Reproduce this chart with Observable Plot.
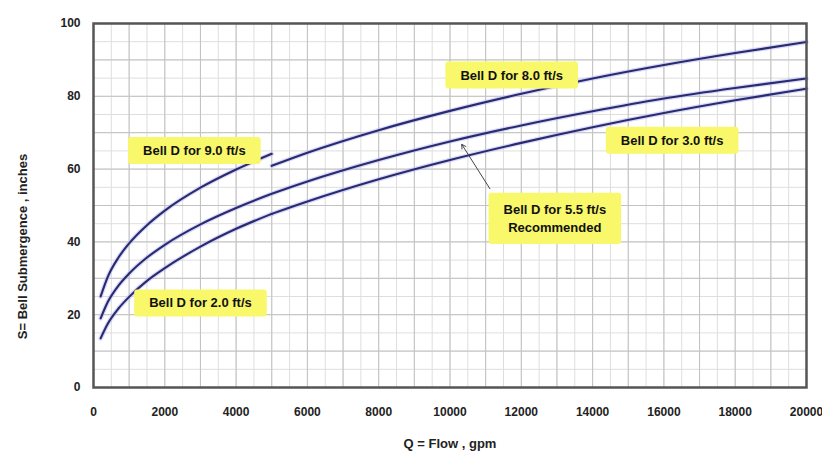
<!DOCTYPE html>
<html>
<head>
<meta charset="utf-8">
<script src="https://cdn.jsdelivr.net/npm/d3@7"></script>
<script src="https://cdn.jsdelivr.net/npm/@observablehq/plot@0.6"></script>
<style>
  html, body { margin: 0; padding: 0; background: #ffffff; }
  #chart { width: 822px; height: 454px; position: relative; }
</style>
</head>
<body>
<div id="chart"></div>
<script>
// ---- data ----
const flowLow  = [200, 400, 700, 1000, 1500, 2000, 3000, 4000, 5000];
const flowHigh = [5000, 6000, 8000, 10000, 12000, 14000, 16000, 18000, 20000];
const flowAll  = [200, 400, 700, 1000, 1500, 2000, 3000, 4000, 5000, 6000, 8000, 10000, 12000, 14000, 16000, 18000, 20000];

const bell9_0 = [25.0, 30.4, 35.7, 39.6, 44.6, 48.6, 54.9, 59.9, 64.2];
const bell2_0 = [13.5, 17.5, 21.7, 24.9, 29.3, 32.8, 38.7, 43.6, 47.7];
const bell8_0 = [60.9, 64.5, 70.7, 76.0, 80.7, 84.9, 88.6, 91.9, 94.9];
const bell3_0 = [47.7, 51.1, 57.2, 62.5, 67.2, 71.5, 75.4, 78.9, 82.1];
const bell5_5 = [19.0, 23.5, 28.0, 31.3, 35.7, 39.2, 44.8, 49.3, 53.2, 56.6, 62.5, 67.6, 72.0, 75.9, 79.4, 82.3, 84.9];

const xTicks = [0, 2000, 4000, 6000, 8000, 10000, 12000, 14000, 16000, 18000, 20000];
const yTicks = [0, 20, 40, 60, 80, 100];

const xTitle = "Q = Flow , gpm";
const yTitle = "S= Bell Submergence , inches";

const calloutText = ["Bell D for 9.0 ft/s", "Bell D for 8.0 ft/s", "Bell D for 3.0 ft/s", "Bell D for 5.5 ft/s\nRecommended", "Bell D for 2.0 ft/s"];
const calloutQ    = [2830, 11730, 16230, 12940, 3000];
const calloutS    = [65.5, 86.2, 68.3, 46.8, 23.6];

const arrowFrom = {q: 11120, s: 54.6};
const arrowTo   = {q: 10330, s: 66.8};

// ---- tables built from the arrays ----
const series = [];
flowLow.forEach((q, i) => series.push({key: "9.0", q, s: bell9_0[i]}));
flowLow.forEach((q, i) => series.push({key: "2.0", q, s: bell2_0[i]}));
flowHigh.forEach((q, i) => series.push({key: "8.0", q, s: bell8_0[i]}));
flowHigh.forEach((q, i) => series.push({key: "3.0", q, s: bell3_0[i]}));
flowAll.forEach((q, i) => series.push({key: "5.5", q, s: bell5_5[i]}));

const callouts = calloutText.map((text, i) => ({text, q: calloutQ[i], s: calloutS[i]}));
const arrows = [{q1: arrowFrom.q, s1: arrowFrom.s, q2: arrowTo.q, s2: arrowTo.s}];

const xMinor = d3.range(0, 20001, 500);
const xMajor = d3.range(0, 20001, 1000);
const yMinor = d3.range(0, 101, 5);
const yMajor = d3.range(0, 101, 10);

const font = "'Liberation Sans', Arial, Helvetica, sans-serif";

const chart = Plot.plot({
  width: 822,
  height: 454,
  marginLeft: 93,
  marginRight: 16,
  marginTop: 23,
  marginBottom: 67,
  style: {fontFamily: font, fontSize: "12px", background: "#ffffff", color: "#222"},
  x: {domain: [0, 20000]},
  y: {domain: [0, 100]},
  marks: [
    Plot.ruleX(xMinor, {stroke: "#dedede", strokeWidth: 1}),
    Plot.ruleY(yMinor, {stroke: "#dedede", strokeWidth: 1}),
    Plot.ruleX(xMajor, {stroke: "#c2c2c2", strokeWidth: 1}),
    Plot.ruleY(yMajor, {stroke: "#c2c2c2", strokeWidth: 1}),
    Plot.line(series, {x: "q", y: "s", z: "key", stroke: "#b9b9f5", strokeWidth: 4.5, strokeOpacity: 0.55, curve: "monotone-x"}),
    Plot.line(series, {x: "q", y: "s", z: "key", stroke: "#2a2a6e", strokeWidth: 2.1, curve: "monotone-x"}),
    Plot.arrow(arrows, {x1: "q1", y1: "s1", x2: "q2", y2: "s2", stroke: "#444", strokeWidth: 1, headLength: 7}),
    Plot.text(callouts, {x: "q", y: "s", text: "text", fontWeight: "bold", fontSize: 13, fill: "#111", lineHeight: 1.4}),
    Plot.frame({stroke: "#555", strokeWidth: 2.5}),
    Plot.axisX(xTicks, {tickSize: 0, tickPadding: 20, label: null, fontWeight: "bold", fill: "#222", tickFormat: d3.format("d")}),
    Plot.axisY(yTicks, {tickSize: 0, tickPadding: 13, label: null, fontWeight: "bold", fill: "#222", tickFormat: d3.format("d")}),
    Plot.text([xTitle], {text: d => d, frameAnchor: "bottom", lineAnchor: "middle", dy: 56, fontWeight: "bold", fontSize: 13, fill: "#222"}),
    Plot.text([yTitle], {text: d => d, frameAnchor: "left", textAnchor: "middle", lineAnchor: "middle", rotate: -90, dx: -71, dy: 41, fontWeight: "bold", fontSize: 13, fill: "#222"})
  ]
});

document.getElementById("chart").append(chart);

// yellow boxes behind the callout texts
const svgns = "http://www.w3.org/2000/svg";
const svgRect = chart.getBoundingClientRect();
const calloutNodes = Array.from(chart.querySelectorAll("text")).filter(t => calloutText.includes(t.textContent) || calloutText.some(c => c.replace("\n", "") === t.textContent));
if (calloutNodes.length) {
  const parent = calloutNodes[0].parentNode;
  const boxes = document.createElementNS(svgns, "g");
  calloutNodes.forEach(t => {
    const b = t.getBoundingClientRect();
    const lines = t.querySelectorAll("tspan").length || 1;
    const padX = 15, padY = 6 + 3 * (lines - 1);
    const r = document.createElementNS(svgns, "rect");
    r.setAttribute("x", b.left - svgRect.left - padX);
    r.setAttribute("y", b.top - svgRect.top - padY);
    r.setAttribute("width", b.width + 2 * padX);
    r.setAttribute("height", b.height + 2 * padY);
    r.setAttribute("rx", 3);
    r.setAttribute("fill", "#f8f86a");
    boxes.appendChild(r);
  });
  parent.parentNode.insertBefore(boxes, parent);
}
</script>
</body>
</html>
